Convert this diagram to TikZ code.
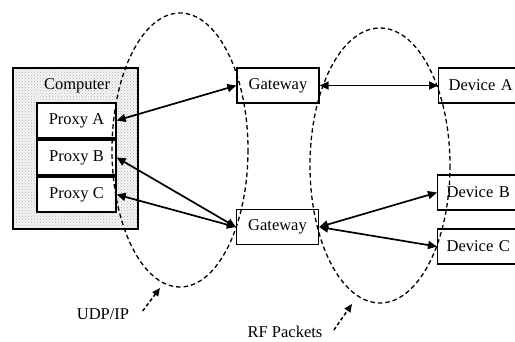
\documentclass[tikz,border=0pt]{standalone}
\usepackage{fontspec}
\setmainfont{Liberation Serif}
\usetikzlibrary{arrows.meta,patterns}
\begin{document}
\begin{tikzpicture}[x=1pt,y=-1pt,
  font=\fontsize{16.5}{18}\selectfont,
  box/.style={draw,line width=1.3pt,fill=white,inner sep=0pt},
  proxybox/.style={box,minimum width=79pt,minimum height=35pt},
  devbox/.style={box,minimum width=82pt,minimum height=35pt},
  endbox/.style={box,minimum width=100pt,minimum height=35pt,anchor=west,text width=100pt,align=left},
  link/.style={line width=1.7pt,{Triangle[length=9pt,width=8pt]}-{Triangle[length=9pt,width=8pt]}},
  zone/.style={line width=1.3pt,dash pattern=on 4.5pt off 3pt},
  pointer/.style={line width=1.5pt,dash pattern=on 3.5pt off 2.5pt,-{Triangle[length=8pt,width=7pt]}}
]
\useasboundingbox (0,0) rectangle (515,341);
\clip (0,0) rectangle (515,341);

% computer enclosure with stippled fill
\fill[gray!8] (13,68) rectangle (138,229);
\fill[pattern=crosshatch dots,pattern color=gray!60] (13,68) rectangle (138,229);
\draw[line width=1.3pt] (13,68) rectangle (138,229);
\node (comp) at (77,86) {Computer};

% proxies
\node[proxybox] (pa) at (76.5,120.5) {Proxy A};
\node[proxybox] (pb) at (76.5,157.5) {Proxy B};
\node[proxybox] (pc) at (76.5,194.5) {Proxy C};

% gateways
\node[devbox] (g1) at (278,85.5) {Gateway};
\node[devbox] (g2) at (277.5,227) {Gateway};

% devices (running off the right edge)
\node[endbox] (da) at (438,85.5) {\hspace{10pt}Device A};
\node[endbox] (db) at (437,192.5) {\hspace{9pt}Device B};
\node[endbox] (dc) at (437,246.5) {\hspace{9pt}Device C};

% network zones
\draw[zone] (180,150) ellipse [x radius=68, y radius=137];
\draw[zone] (380,165.5) ellipse [x radius=70, y radius=137.5];

% links
\draw[link] (pa.east) -- (g1.west);
\draw[link] (g1.east) -- (da.west);
\draw[link] (pb.east) -- (g2.west);
\draw[link] (pc.east) -- (g2.west);
\draw[link] (g2.east) -- (db.west);
\draw[link] (g2.east) -- (dc.west);

% zone labels
\node (udp) at (103,314) {UDP/IP};
\node (rf) at (285,332) {RF Packets};
\coordinate (udptip) at (160,288);
\coordinate (rftip) at (352,304);
\draw[pointer] ([xshift=10pt,yshift=3pt]udp.east) -- (udptip);
\draw[pointer] ([xshift=8pt,yshift=2pt]rf.east) -- (rftip);
\end{tikzpicture}
\end{document}
